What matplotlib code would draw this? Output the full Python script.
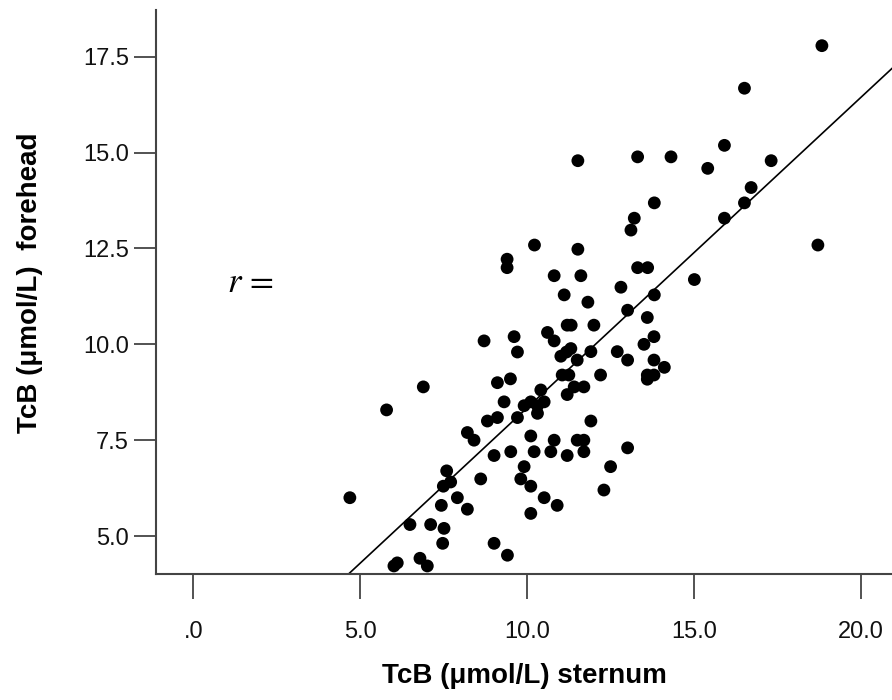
import numpy as np
import matplotlib
matplotlib.use("Agg")
import matplotlib.pyplot as plt

# TcB readings: sternum (x) vs forehead (y)
sternum = [18.83, 16.51, 11.52, 13.31, 14.31, 15.91, 15.41, 17.31, 16.71, 16.51,
           15.91, 13.81, 13.21, 13.11, 10.22, 11.52, 18.71, 9.40, 9.40, 13.31,
           13.61, 10.81, 11.61, 15.01, 12.81, 11.11, 11.82, 13.81, 13.01, 13.60,
           11.20, 11.32, 12.00, 10.61, 10.81, 9.61, 9.71, 8.71, 13.80, 13.50,
           11.31, 11.18, 11.01, 11.50, 11.91, 12.70, 13.01, 13.80, 14.11, 13.60,
           13.80, 13.60, 12.20, 11.05, 11.25, 9.11, 9.50, 11.41, 11.70, 11.20,
           10.41, 9.31, 9.91, 10.11, 10.31, 10.51, 10.31, 9.71, 8.81, 9.11,
           11.91, 8.21, 8.41, 10.11, 10.81, 11.50, 11.70, 9.01, 9.51, 10.21,
           10.71, 11.20, 11.70, 13.01, 7.59, 7.49, 7.71, 8.61, 9.91, 9.81,
           10.11, 12.50, 12.30, 7.91, 7.43, 8.21, 10.51, 10.90, 10.11, 7.51,
           7.47, 9.01, 9.41, 6.89, 5.79, 4.69, 6.49, 7.11, 6.79, 7.01,
           6.11, 6.01]
forehead = [17.79, 16.68, 14.79, 14.89, 14.89, 15.19, 14.59, 14.79, 14.09, 13.69,
            13.29, 13.69, 13.29, 12.98, 12.59, 12.48, 12.59, 12.22, 12.00, 12.00,
            12.00, 11.79, 11.79, 11.69, 11.49, 11.29, 11.10, 11.29, 10.89, 10.70,
            10.50, 10.50, 10.50, 10.31, 10.09, 10.20, 9.80, 10.09, 10.20, 10.00,
            9.89, 9.80, 9.69, 9.59, 9.81, 9.81, 9.59, 9.59, 9.40, 9.20,
            9.20, 9.09, 9.20, 9.20, 9.20, 9.00, 9.10, 8.89, 8.89, 8.69,
            8.81, 8.50, 8.40, 8.50, 8.40, 8.50, 8.20, 8.09, 8.00, 8.09,
            8.00, 7.70, 7.50, 7.61, 7.50, 7.50, 7.50, 7.10, 7.20, 7.20,
            7.20, 7.10, 7.20, 7.30, 6.70, 6.30, 6.41, 6.49, 6.81, 6.49,
            6.30, 6.81, 6.20, 6.00, 5.80, 5.70, 6.00, 5.80, 5.59, 5.20,
            4.81, 4.81, 4.50, 8.89, 8.29, 6.00, 5.30, 5.30, 4.42, 4.22,
            4.30, 4.22]

# fitted line
slope = 0.810
intercept = 0.243

xticks = [0, 5, 10, 15, 20]
xtick_labels = [".0", "5.0", "10.0", "15.0", "20.0"]
yticks = [5.0, 7.5, 10.0, 12.5, 15.0, 17.5]
ytick_labels = ["5.0", "7.5", "10.0", "12.5", "15.0", "17.5"]

plt.rcParams["font.family"] = ["Liberation Sans", "DejaVu Sans"]
plt.rcParams["mathtext.fontset"] = "stix"

fig = plt.figure(figsize=(8.92, 7.0), dpi=100)
ax = fig.add_axes([0.1749, 0.18, 0.8251, 0.8057])

ax.scatter(sternum, forehead, s=85, color="black", edgecolors="none", zorder=3)

xl = np.array([-2.0, 22.0])
ax.plot(xl, intercept + slope * xl, color="black", lw=1.2, zorder=2)

ax.set_xlim(-1.117, 20.93)
ax.set_ylim(4.01, 18.72)

for s in ["top", "right"]:
    ax.spines[s].set_visible(False)
for s in ["left", "bottom"]:
    ax.spines[s].set_color("#444444")
    ax.spines[s].set_linewidth(1.5)

ax.set_xticks(xticks)
ax.set_xticklabels(xtick_labels)
ax.set_yticks(yticks)
ax.set_yticklabels(ytick_labels)
ax.tick_params(axis="x", length=18, width=1.3, color="#444444", pad=16,
               labelsize=17, labelcolor="#111111")
ax.tick_params(axis="y", length=16, width=1.3, color="#444444", pad=3.5,
               labelsize=17, labelcolor="#111111")

ax.set_xlabel("TcB (μmol/L) sternum", fontsize=20, fontweight="bold")
ax.set_ylabel("TcB (μmol/L)  forehead", fontsize=20, fontweight="bold")
ax.xaxis.set_label_coords(0.5, -0.158)
ax.yaxis.set_label_coords(-0.153, 0.516)

ax.text(1.0, 11.62, "$r\\,=$", fontsize=25, ha="left", va="center")

fig.savefig("out.png", dpi=100)
